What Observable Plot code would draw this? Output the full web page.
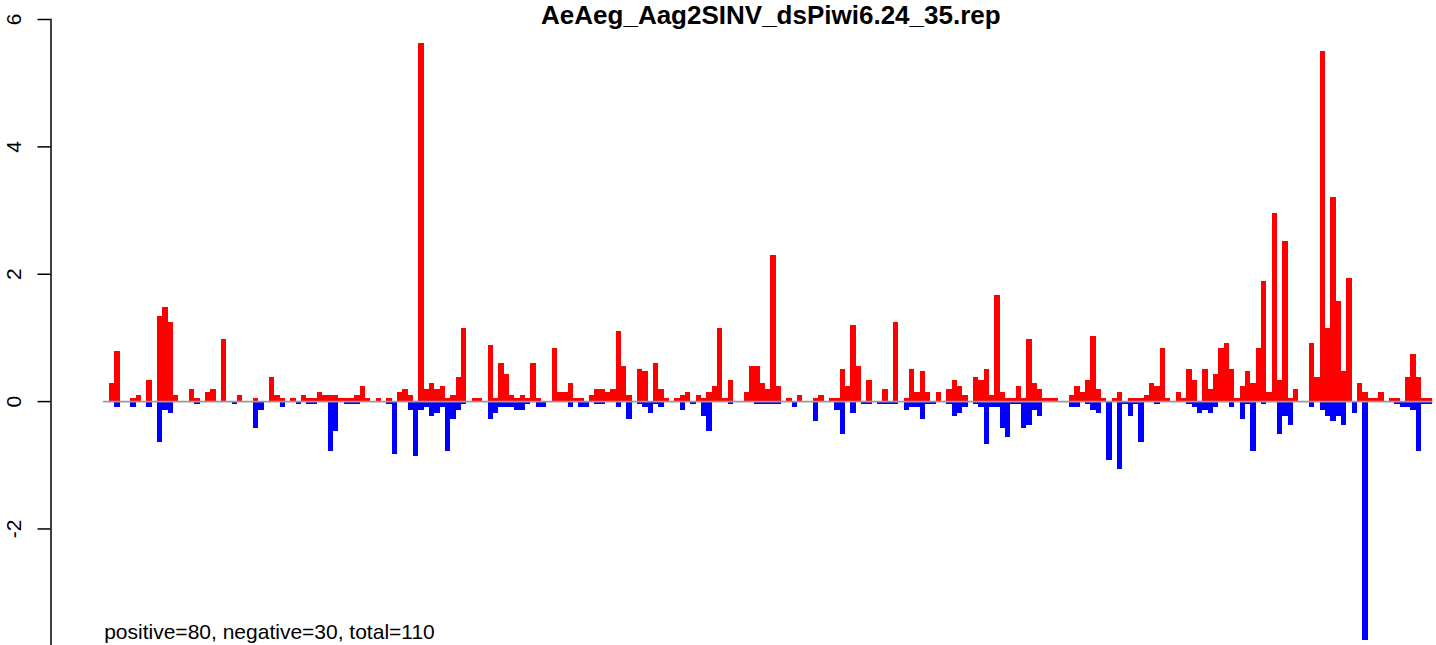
<!DOCTYPE html>
<html>
<head>
<meta charset="utf-8">
<script src="https://cdn.jsdelivr.net/npm/d3@7"></script>
<script src="https://cdn.jsdelivr.net/npm/@observablehq/plot@0.6"></script>
<style>
  html, body { margin: 0; padding: 0; background: #fff; overflow: hidden; }
  svg rect { shape-rendering: crispEdges; }
</style>
</head>
<body>
<div id="chart"></div>
<script>
const title = "AeAeg_Aag2SINV_dsPiwi6.24_35.rep";
const caption = "positive=80, negative=30, total=110";
const yTicks = [-2, 0, 2, 4, 6];
const yTickLabels = ["-2", "0", "2", "4", "6"];

// positive-strand values per bin
const pos = [
  0.28, 0.79, 0, 0, 0.05, 0.09, 0, 0.33, 0, 1.33,
  1.47, 1.24, 0.09, 0, 0, 0.19, 0.05, 0, 0.14, 0.19,
  0, 0.97, 0, 0, 0.09, 0, 0, 0.05, 0, 0,
  0.38, 0.09, 0.05, 0, 0.05, 0, 0.09, 0.05, 0.05, 0.14,
  0.09, 0.09, 0.09, 0.05, 0.05, 0.05, 0.09, 0.24, 0.05, 0,
  0.05, 0, 0.05, 0, 0.14, 0.19, 0.09, 0, 5.63, 0.19,
  0.28, 0.19, 0.24, 0.05, 0.09, 0.38, 1.14, 0, 0.05, 0.05,
  0, 0.88, 0.05, 0.60, 0.42, 0.09, 0.05, 0.09, 0.05, 0.60,
  0.05, 0, 0, 0.83, 0.14, 0.14, 0.28, 0.05, 0.05, 0,
  0.09, 0.19, 0.19, 0.14, 0.19, 1.10, 0.55, 0.09, 0, 0.50,
  0.47, 0, 0.60, 0.19, 0.05, 0, 0.05, 0.09, 0.14, 0,
  0.09, 0.05, 0.14, 0.24, 1.14, 0.05, 0.33, 0, 0, 0.14,
  0.55, 0.55, 0.28, 0.19, 2.29, 0.24, 0, 0.05, 0, 0.09,
  0, 0, 0.05, 0.09, 0, 0.05, 0.05, 0.50, 0.24, 1.19,
  0.55, 0, 0.33, 0, 0, 0.19, 0, 1.24, 0, 0.05,
  0.50, 0.14, 0.47, 0.14, 0, 0.14, 0, 0.19, 0.33, 0.24,
  0.09, 0, 0.38, 0.33, 0.50, 0.09, 1.66, 0.14, 0.05, 0.05,
  0.24, 0.05, 0.97, 0.28, 0.19, 0.05, 0.05, 0.05, 0, 0,
  0.09, 0.24, 0.14, 0.33, 1.02, 0.19, 0.05, 0, 0.05, 0.14,
  0, 0.05, 0.05, 0.05, 0.09, 0.28, 0.24, 0.83, 0.05, 0,
  0.14, 0.05, 0.50, 0.33, 0, 0.50, 0.19, 0.42, 0.83, 0.92,
  0.50, 0.05, 0.24, 0.47, 0.28, 0.83, 1.88, 0.14, 2.96, 0.33,
  2.52, 0.05, 0.19, 0, 0, 0.92, 0.38, 5.50, 1.14, 3.20,
  1.57, 0.47, 1.93, 0, 0.28, 0.14, 0.05, 0.05, 0.14, 0,
  0.05, 0.05, 0, 0.38, 0.74, 0.38, 0.05, 0.05
];

// negative-strand values per bin
const neg = [
  0, -0.09, 0, 0, -0.09, 0, 0, -0.09, 0, -0.64,
  -0.14, -0.18, 0, 0, 0, 0, -0.04, 0, 0, 0,
  0, 0, 0, -0.04, 0, 0, 0, -0.42, -0.14, 0,
  0, 0, -0.09, 0, 0, -0.04, 0, -0.04, -0.04, 0,
  0, -0.78, -0.47, 0, -0.04, -0.04, -0.04, 0, 0, 0,
  0, 0, -0.04, -0.83, 0, 0, -0.14, -0.87, -0.14, -0.09,
  -0.23, -0.18, -0.09, -0.78, -0.28, -0.14, -0.04, 0, 0, 0,
  0, -0.28, -0.18, -0.09, -0.09, -0.09, -0.14, -0.14, -0.04, 0,
  -0.09, -0.09, 0, 0, 0, 0, -0.09, 0, -0.09, -0.09,
  0, -0.04, -0.04, 0, 0, -0.09, 0, -0.28, 0, -0.04,
  -0.09, -0.18, -0.04, -0.09, 0, 0, 0, -0.14, 0, -0.04,
  0, -0.23, -0.47, 0, 0, 0, -0.04, 0, 0, 0,
  0, -0.04, -0.04, -0.04, -0.04, -0.04, 0, 0, -0.09, 0,
  0, 0, -0.32, 0, 0, 0, -0.14, -0.52, 0, -0.18,
  0, -0.04, -0.04, 0, -0.04, -0.04, -0.04, -0.04, 0, -0.14,
  -0.09, -0.09, -0.28, -0.04, -0.04, 0, 0, -0.04, -0.23, -0.18,
  -0.09, 0, -0.04, -0.09, -0.68, -0.09, -0.09, -0.42, -0.56, -0.04,
  -0.04, -0.42, -0.37, -0.14, -0.23, 0, 0, 0, 0, 0,
  -0.09, -0.09, 0, -0.04, -0.14, -0.18, 0, -0.93, 0, -1.06,
  -0.04, -0.23, -0.04, -0.64, 0, 0, -0.04, 0, 0, 0,
  0, 0, -0.04, -0.09, -0.18, -0.14, -0.18, -0.09, 0, 0,
  -0.09, 0, -0.28, -0.04, -0.78, 0, -0.04, 0, 0, -0.52,
  -0.23, -0.37, 0, 0, 0, -0.09, 0, -0.14, -0.23, -0.32,
  -0.23, -0.37, 0, -0.18, 0, -3.75, 0, 0, 0, 0,
  0, -0.04, -0.09, -0.09, -0.14, -0.78, -0.04, -0.04
];

const nBins = pos.length;
const baselineSpan = [-1.1, nBins + 0.2];

const table = d3.range(nBins).map(i => ({i, pos: pos[i], neg: neg[i]}));

const chart = Plot.plot({
  width: 1436,
  height: 645,
  marginTop: 19,
  marginBottom: 0,
  marginLeft: 50.5,
  marginRight: 0,
  style: {fontFamily: "'Liberation Sans', Arial, sans-serif", background: "#fff", color: "#000", overflow: "visible"},
  x: {domain: [0, nBins], range: [109, 1431.7], axis: null},
  y: {domain: [-3.83, 6], axis: null},
  marks: [
    Plot.rectY(table.filter(d => d.pos > 0), {x1: "i", x2: d => d.i + 1, y1: 0, y2: "pos", fill: "#ff0000", inset: 0}),
    Plot.rectY(table.filter(d => d.neg < 0), {x1: "i", x2: d => d.i + 1, y1: 0, y2: "neg", fill: "#0000ff", inset: 0}),
    Plot.ruleY([0], {x1: baselineSpan[0], x2: baselineSpan[1], stroke: "#9a9a9a", strokeWidth: 1.7}),
    Plot.frame({anchor: "left", stroke: "#000", strokeWidth: 1.5}),
    Plot.axisY(yTicks, {anchor: "left", tickSize: 13, tickFormat: () => "", stroke: "#000", strokeWidth: 1.5}),
    Plot.text(yTicks, {y: d => d, text: (d, i) => yTickLabels[i], frameAnchor: "left", dx: -30.5, rotate: -90, textAnchor: "middle", lineAnchor: "bottom", fontSize: 21, fill: "#000"}),
    Plot.text([title], {x: () => nBins / 2, frameAnchor: "top", lineAnchor: "bottom", dy: 4.5, text: d => d, fontSize: 26, fontWeight: "bold", fill: "#000"}),
    Plot.text([caption], {x: () => -1, frameAnchor: "bottom", textAnchor: "start", lineAnchor: "bottom", dy: -7, text: d => d, fontSize: 21, fill: "#000"})
  ]
});
document.getElementById("chart").appendChild(chart);
</script>
</body>
</html>
